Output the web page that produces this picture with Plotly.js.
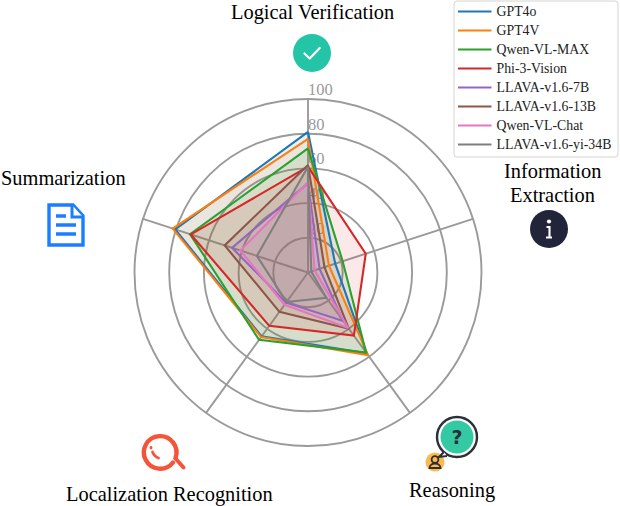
<!DOCTYPE html>
<html>
<head>
<meta charset="utf-8">
<script src="https://cdn.plot.ly/plotly-3.0.1.min.js"></script>
<style>
html,body{margin:0;padding:0;background:#fff}
#chart{width:620px;height:506px}
.legendtext{font-size:13.8px !important}
</style>
</head>
<body>
<div id="chart"></div>
<script>
const categories = ["Logical Verification","Information Extraction","Reasoning","Localization Recognition","Summarization"];
const seriesNames = ["GPT4o","GPT4V","Qwen-VL-MAX","Phi-3-Vision","LLAVA-v1.6-7B","LLAVA-v1.6-13B","Qwen-VL-Chat","LLAVA-v1.6-yi-34B"];
const GPT4o = [81,16.5,57.5,45.5,80.5];
const GPT4V = [77,12.7,59,46,82];
const QwenMax = [71.5,21,57,48,71.5];
const Phi3 = [61,35,45,38,71];
const Llava7B = [51.5,7,34.5,21.5,46];
const Llava13B = [62,10,40,28,50.5];
const QwenChat = [52,4,39.5,23,41];
const LlavaYi = [61,2,18,21,31];
const seriesValues = [GPT4o,GPT4V,QwenMax,Phi3,Llava7B,Llava13B,QwenChat,LlavaYi];
const seriesColors = ["31,119,180","255,127,14","44,160,44","214,39,40","148,103,189","140,86,75","227,119,194","127,127,127"];
const radialTicks = [20,40,60,80,100];

const W = 620, H = 506;
const GRID = "#9a9a9a";
const px = x => x / W;
const py = y => 1 - y / H;

const traces = [{
  type: "scatterpolar", mode: "text", showlegend: false, hoverinfo: "skip",
  r: radialTicks, theta: radialTicks.map(() => categories[0]),
  text: radialTicks.map(String), textposition: "top right",
  textfont: {family: "Liberation Serif, serif", size: 16.5, color: "#9a9a9a"}
}];
seriesNames.forEach((name, i) => {
  const r = seriesValues[i].concat(seriesValues[i][0]);
  const theta = categories.concat(categories[0]);
  traces.push({
    type: "scatterpolar", mode: "none", showlegend: false, hoverinfo: "skip",
    r: r, theta: theta, fill: "toself",
    fillcolor: "rgba(" + seriesColors[i] + ",0.1)"
  });
});
seriesNames.forEach((name, i) => {
  traces.push({
    type: "scatterpolar", mode: "lines", name: name,
    r: seriesValues[i].concat(seriesValues[i][0]),
    theta: categories.concat(categories[0]),
    line: {color: "rgb(" + seriesColors[i] + ")", width: 2.1, shape: "linear"}
  });
});

function svgUri(w, h, body) {
  return "data:image/svg+xml;charset=utf-8," + encodeURIComponent(
    '<svg xmlns="http://www.w3.org/2000/svg" width="' + w + '" height="' + h + '" viewBox="0 0 ' + w + ' ' + h + '">' + body + '</svg>');
}
function icon(x, y, w, h, body) {
  return {source: svgUri(w, h, body), xref: "paper", yref: "paper", x: px(x), y: py(y),
    sizex: w / W, sizey: h / H, sizing: "stretch", xanchor: "left", yanchor: "top", layer: "above"};
}
const images = [
  icon(292, 33, 40, 40, '<circle cx="20" cy="20" r="19" fill="#24c4a6"/><path d="M12.5 20.5l5.2 5 10-10.5" fill="none" stroke="#fff" stroke-width="2.2" stroke-linecap="round" stroke-linejoin="round"/>'),
  icon(529, 209, 40, 40, '<circle cx="20" cy="20" r="19" fill="#22243a"/><circle cx="20" cy="12.5" r="2.1" fill="#fff"/><path d="M17.5 18h3v10.5M17 28.5h6" fill="none" stroke="#fff" stroke-width="2.1"/>'),
  icon(44, 200, 44, 50, '<path d="M5 5h24l10 11v29H5z" fill="#fff" stroke="#1b7dff" stroke-width="3.4" stroke-linejoin="miter"/><path d="M28 5v12h11" fill="#fff" stroke="#1b7dff" stroke-width="3"/><path d="M12 16h10M12 25h20M12 34h20" stroke="#1b7dff" stroke-width="3.4"/>'),
  icon(138, 424, 52, 50, '<path d="M35 38.5A16.3 16.3 0 1 1 37.5 34" fill="none" stroke="#f4553a" stroke-width="4.4" stroke-linecap="round"/><path d="M37.5 34.5l8 9" stroke="#f4553a" stroke-width="4" stroke-linecap="round"/><path d="M13 23.5v.5M14.5 28c1.2 3 3 5 6 6" fill="none" stroke="#f4553a" stroke-width="2.8" stroke-linecap="round"/>'),
  icon(424, 414, 56, 60, '<circle cx="11" cy="48" r="9.5" fill="#fdb94b"/><circle cx="33" cy="23" r="20" fill="#fff" stroke="#2b2f3a" stroke-width="2.4"/><path d="M20 38l-5 5 8-1" fill="#fff" stroke="#2b2f3a" stroke-width="2"/><circle cx="33" cy="23" r="16.5" fill="#33c9a2"/><text x="33" y="30" font-family="DejaVu Sans,sans-serif" font-size="19" font-weight="700" text-anchor="middle" fill="#2b2f3a">?</text><circle cx="11" cy="45.5" r="3.4" fill="none" stroke="#2b2f3a" stroke-width="1.8"/><path d="M5.5 54c0-6 11-6 11 0z" fill="none" stroke="#2b2f3a" stroke-width="1.8"/>')
];

const labelFont = {family: "Liberation Serif, serif", size: 20.4, color: "#000"};
function label(x, y, text) {
  return {xref: "paper", yref: "paper", x: px(x), y: py(y), text: text, showarrow: false,
    xanchor: "center", yanchor: "middle", align: "center", font: labelFont};
}
const annotations = [
  label(312.5, 12.5, categories[0]),
  label(552, 171, "Information"),
  label(552, 195, "Extraction"),
  label(452, 490.5, categories[2]),
  label(169, 494, categories[3]),
  label(63.5, 177.5, categories[4])
];

const legendBox = {
  type: "path", xref: "paper", yref: "paper", layer: "above",
  fillcolor: "#fff", line: {color: "#d4d4d4", width: 1},
  path: "M" + px(457) + "," + py(1) + " L" + px(615) + "," + py(1) +
        " Q" + px(618) + "," + py(1) + " " + px(618) + "," + py(4) +
        " L" + px(618) + "," + py(154) +
        " Q" + px(618) + "," + py(157) + " " + px(615) + "," + py(157) +
        " L" + px(457) + "," + py(157) +
        " Q" + px(454) + "," + py(157) + " " + px(454) + "," + py(154) +
        " L" + px(454) + "," + py(4) +
        " Q" + px(454) + "," + py(1) + " " + px(457) + "," + py(1) + " Z"
};

const layout = {
  width: W, height: H,
  margin: {l: 0, r: 0, t: 0, b: 0, pad: 0, autoexpand: false},
  paper_bgcolor: "#fff",
  showlegend: true,
  legend: {
    x: px(453), y: py(-3), xanchor: "left", yanchor: "top",
    bgcolor: "rgba(0,0,0,0)", borderwidth: 0,
    font: {family: "Liberation Serif, serif", size: 12.3, color: "#222"},
    itemwidth: 33.5, traceorder: "normal", tracegroupgap: 0
  },
  polar: {
    domain: {x: [px(134.5), px(481.5)], y: [py(446), py(99)]},
    bgcolor: "#fff",
    radialaxis: {
      range: [0, 100], tickvals: radialTicks, showticklabels: false, ticks: "",
      gridcolor: GRID, gridwidth: 1.9, showline: false, angle: 90
    },
    angularaxis: {
      type: "category", categoryarray: categories, direction: "clockwise", rotation: 90,
      showticklabels: false, ticks: "", gridcolor: GRID, gridwidth: 1.9,
      linecolor: GRID, linewidth: 1.9, showline: true
    }
  },
  shapes: [legendBox],
  annotations: annotations,
  images: images
};
Plotly.newPlot("chart", traces, layout, {displayModeBar: false, staticPlot: true});
</script>
</body>
</html>
